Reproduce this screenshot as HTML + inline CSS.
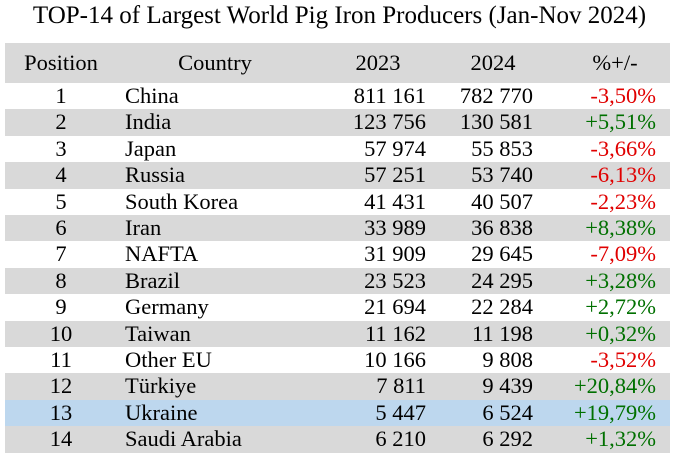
<!DOCTYPE html>
<html><head><meta charset="utf-8"><style>
body{margin:0;width:679px;height:460px;background:#fff;font-family:"Liberation Serif",serif;color:#000;position:relative;overflow:hidden}
.t{position:absolute;top:2px;left:0;width:679px;text-align:center;font-size:25px}
.r{position:absolute;left:5px;width:665px;height:26.4px;font-size:22.5px;line-height:26.4px}
.r span{position:absolute;white-space:nowrap}
.g{background:#d9d9d9}.b{background:#bdd7ee}
.p{left:0;width:112px;text-align:center}
.c{left:120px}
.a{right:244px}.y{right:137px}.q{right:14px}
.red{color:#e00000}.grn{color:#007000}
</style></head><body>
<div class="t">TOP-14 of Largest World Pig Iron Producers (Jan-Nov 2024)</div>
<div class="r g" style="top:43px;height:40px;line-height:40px">
<span class="p">Position</span><span style="left:120px;width:180px;text-align:center">Country</span>
<span style="left:340px;width:66px;text-align:center">2023</span><span style="left:455px;width:66px;text-align:center">2024</span><span style="left:575px;width:70px;text-align:center">%+/-</span></div>
<div id="rows"></div>
<script>
const d=[["1","China","811 161","782 770","-3,50%"],["2","India","123 756","130 581","+5,51%"],["3","Japan","57 974","55 853","-3,66%"],["4","Russia","57 251","53 740","-6,13%"],["5","South Korea","41 431","40 507","-2,23%"],["6","Iran","33 989","36 838","+8,38%"],["7","NAFTA","31 909","29 645","-7,09%"],["8","Brazil","23 523","24 295","+3,28%"],["9","Germany","21 694","22 284","+2,72%"],["10","Taiwan","11 162","11 198","+0,32%"],["11","Other EU","10 166","9 808","-3,52%"],["12","Türkiye","7 811","9 439","+20,84%"],["13","Ukraine","5 447","6 524","+19,79%"],["14","Saudi Arabia","6 210","6 292","+1,32%"]];
let h="";d.forEach((e,i)=>{const cls=i==12?"b":(i%2?"g":"");h+=`<div class="r ${cls}" style="top:${83+i*26.4}px"><span class="p">${e[0]}</span><span class="c">${e[1]}</span><span class="a">${e[2]}</span><span class="y">${e[3]}</span><span class="q ${e[4][0]=='-'?'red':'grn'}">${e[4]}</span></div>`});
document.getElementById("rows").innerHTML=h;
</script>
</body></html>
